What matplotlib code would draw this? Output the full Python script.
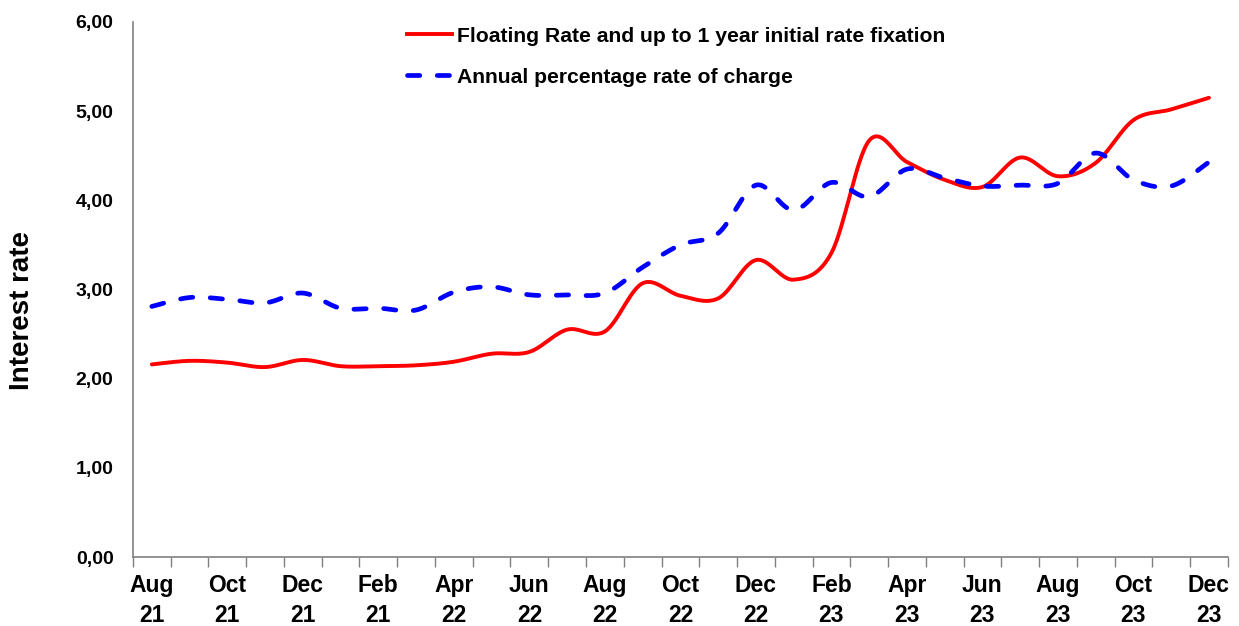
import numpy as np
import matplotlib
matplotlib.use("Agg")
import matplotlib.pyplot as plt
from matplotlib.lines import Line2D

months = ["Aug 21", "Sep 21", "Oct 21", "Nov 21", "Dec 21", "Jan 22", "Feb 22", "Mar 22",
          "Apr 22", "May 22", "Jun 22", "Jul 22", "Aug 22", "Sep 22", "Oct 22", "Nov 22",
          "Dec 22", "Jan 23", "Feb 23", "Mar 23", "Apr 23", "May 23", "Jun 23", "Jul 23",
          "Aug 23", "Sep 23", "Oct 23", "Nov 23", "Dec 23"]
tick_labels = ["Aug\n21", "Oct\n21", "Dec\n21", "Feb\n21", "Apr\n22", "Jun\n22", "Aug\n22",
               "Oct\n22", "Dec\n22", "Feb\n23", "Apr\n23", "Jun\n23", "Aug\n23", "Oct\n23", "Dec\n23"]

floating_rate = [2.16, 2.20, 2.18, 2.13, 2.21, 2.14, 2.14, 2.15, 2.19, 2.28, 2.30, 2.55, 2.53,
                 3.07, 2.93, 2.90, 3.33, 3.11, 3.41, 4.67, 4.43, 4.23, 4.15, 4.48, 4.27, 4.42,
                 4.90, 5.02, 5.15]
aprc = [2.81, 2.91, 2.89, 2.85, 2.96, 2.79, 2.79, 2.77, 2.97, 3.03, 2.94, 2.94, 2.96,
        3.25, 3.50, 3.63, 4.17, 3.89, 4.20, 4.04, 4.35, 4.25, 4.16, 4.17, 4.19, 4.53,
        4.23, 4.16, 4.43]

label_floating = "Floating Rate and up to 1 year initial rate fixation"
label_aprc = "Annual percentage rate of charge"


def smooth(xs, ys, n=30):
    """Excel-style Bezier smoothing through the given points."""
    xs = np.asarray(xs, float)
    ys = np.asarray(ys, float)
    px, py = [], []
    m = len(xs)
    for i in range(m - 1):
        x0, y0 = (xs[i - 1], ys[i - 1]) if i > 0 else (xs[i], ys[i])
        x1, y1 = xs[i], ys[i]
        x2, y2 = xs[i + 1], ys[i + 1]
        x3, y3 = (xs[i + 2], ys[i + 2]) if i + 2 < m else (xs[i + 1], ys[i + 1])
        c1x, c1y = x1 + (x2 - x0) / 6, y1 + (y2 - y0) / 6
        c2x, c2y = x2 - (x3 - x1) / 6, y2 - (y3 - y1) / 6
        t = np.linspace(0, 1, n, endpoint=(i == m - 2))
        a = (1 - t) ** 3
        b = 3 * (1 - t) ** 2 * t
        c = 3 * (1 - t) * t ** 2
        d = t ** 3
        px.append(a * x1 + b * c1x + c * c2x + d * x2)
        py.append(a * y1 + b * c1y + c * c2y + d * y2)
    return np.concatenate(px), np.concatenate(py)


plt.rcParams['font.family'] = ['Liberation Sans', 'DejaVu Sans']
plt.rcParams['font.weight'] = 'bold'

fig = plt.figure(figsize=(12.39, 6.26), dpi=100)
ax = fig.add_axes([0.1073, 0.1102, 0.8837, 0.8547])

RED_LW = 2.8
BLUE_LW = 3.4
BLUE_DASH = (2.6, 3.7)

x = np.arange(len(months))
sx, sy = smooth(x, floating_rate)
ax.plot(sx, sy, color='#FF0000', lw=RED_LW, solid_capstyle='round')
bx, by = smooth(x, aprc)
ax.plot(bx, by, color='#0000FF', lw=BLUE_LW, dashes=BLUE_DASH, dash_capstyle='round')

ax.set_xlim(-0.5, len(months) - 0.5)
ax.set_ylim(0, 6)
yt = np.arange(0, 6.01, 1)
ax.set_yticks(yt)
ax.set_yticklabels([f"{v:.2f}".replace('.', ',') for v in yt])
ax.tick_params(axis='y', length=0, pad=14, labelsize=14)

ax.set_xticks(np.arange(-0.5, len(months), 1), minor=False)
ax.set_xticklabels([])
ax.set_xticks(np.arange(0, len(months), 2), minor=True)
ax.set_xticklabels(tick_labels, minor=True, fontsize=16.5, linespacing=1.4)
ax.tick_params(axis='x', which='major', length=7, width=1, color='#808080', direction='out')
ax.tick_params(axis='x', which='minor', length=0, pad=12)

for s in ['top', 'right']:
    ax.spines[s].set_visible(False)
for s in ['left', 'bottom']:
    ax.spines[s].set_color('#808080')
    ax.spines[s].set_linewidth(1.2)

ax.set_ylabel("Interest rate", fontsize=20, fontweight='bold')
ax.yaxis.set_label_coords(-0.089, 0.46)

handles = [Line2D([], [], color='#FF0000', lw=RED_LW),
           Line2D([], [], color='#0000FF', lw=BLUE_LW, dashes=BLUE_DASH, dash_capstyle='round')]
fig.legend(handles, [label_floating, label_aprc], loc='upper left',
           bbox_to_anchor=(0.3135, 0.988), frameon=False, fontsize=15.2,
           handlelength=2.1, handletextpad=0.25, labelspacing=1.05)

fig.savefig("out.png", dpi=100)
